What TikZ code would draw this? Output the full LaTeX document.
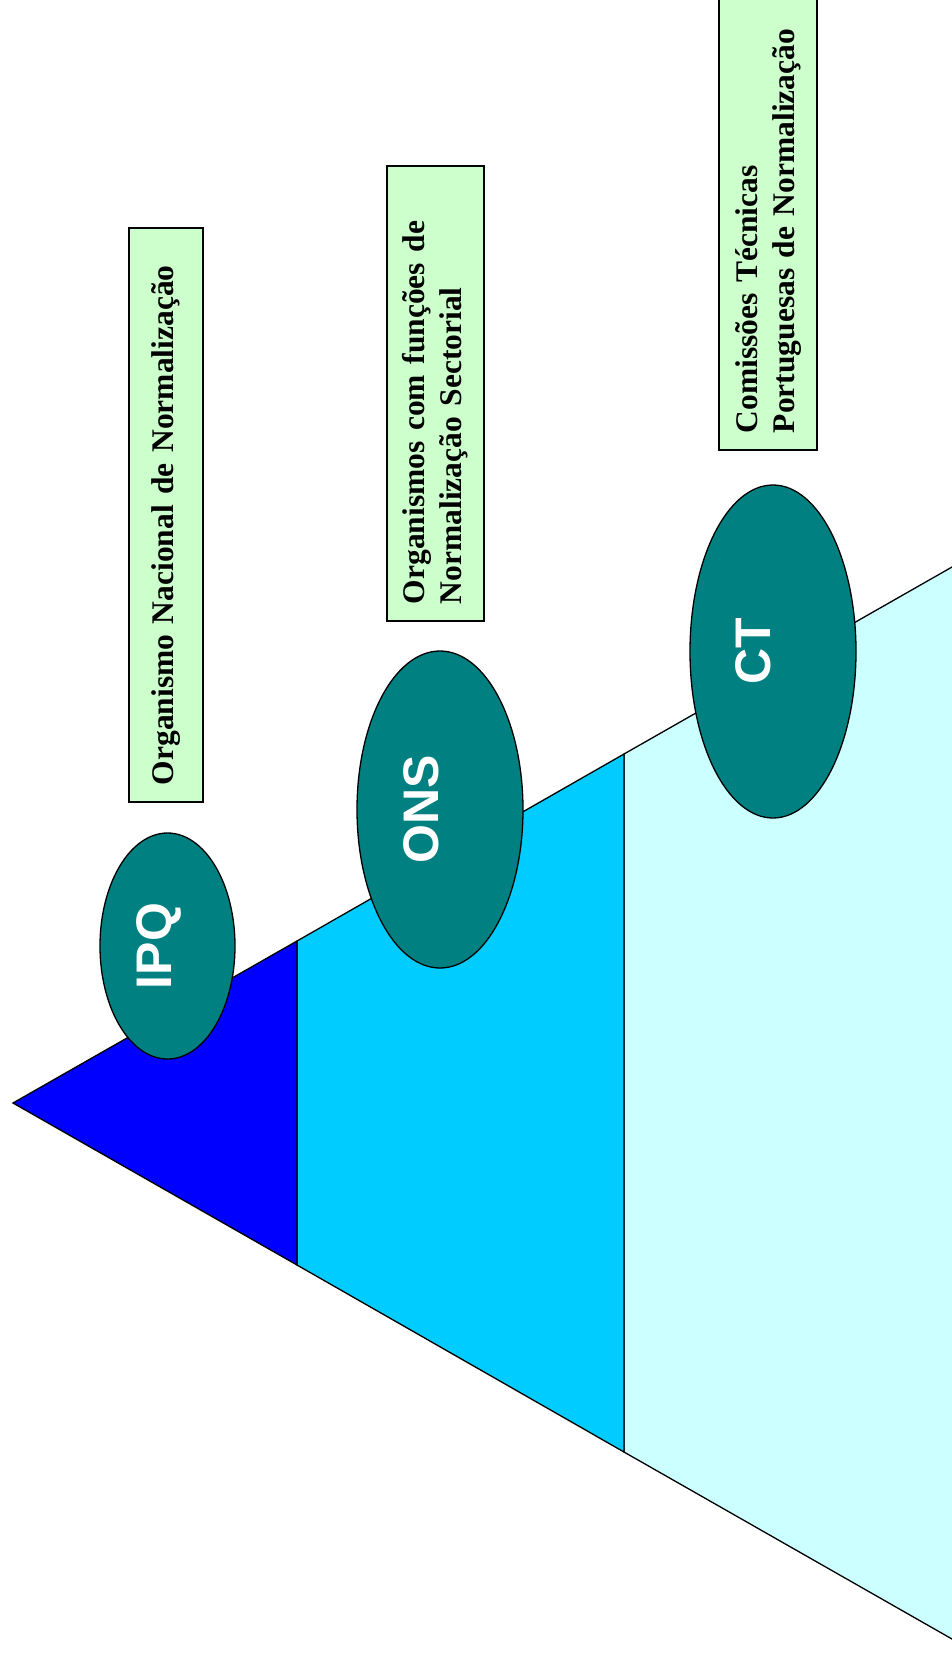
\documentclass[tikz,border=0pt]{standalone}
\usepackage{fontspec}
\setmainfont{Liberation Serif}
\newfontfamily\notefont[WordSpace=0.8]{Liberation Serif}
\newfontfamily\hubfont{Liberation Sans}
\usepackage{tikz}
\usetikzlibrary{shapes.geometric,calc}

\definecolor{tierone}{HTML}{0000FF}
\definecolor{tiertwo}{HTML}{00CCFF}
\definecolor{tierthree}{HTML}{CCFFFF}
\definecolor{hubteal}{HTML}{008080}
\definecolor{notegreen}{HTML}{CCFFCC}

\tikzset{
  tier/.style={draw=black,line width=1.3pt,line join=miter},
  hub/.style={ellipse,draw=black,line width=1.3pt,fill=hubteal,
    inner sep=0pt},
  hublabel/.style={text=white,inner sep=0pt,rotate=90,
    font=\hubfont\bfseries\fontsize{50}{56}\selectfont},
  note/.style={rectangle,draw=black,line width=1.3pt,fill=notegreen,rotate=90,
    align=left,inner xsep=17pt,inner ysep=0pt,
    font=\notefont\bfseries\fontsize{31.5}{37}\selectfont}
}

\begin{document}
\begin{tikzpicture}[x=1pt,y=-1pt]
\useasboundingbox (0,0) rectangle (952,1654);
% the corners of the pyramid
\coordinate (apex) at (13,1103);
\coordinate (t1) at (297,941);
\coordinate (b1) at (297,1265);
\coordinate (t2) at (624,754);
\coordinate (b2) at (624,1452);
\coordinate (t3) at (965,559.6);
\coordinate (b3) at (965,1646.4);
% the three tiers
\draw[tier,fill=tierthree] (t2) -- (t3) -- (b3) -- (b2) -- cycle;
\draw[tier,fill=tiertwo] (t1) -- (t2) -- (b2) -- (b1) -- cycle;
\draw[tier,fill=tierone] (apex) -- (t1) -- (b1) -- cycle;
% the notes
\node[note,minimum height=74pt,text width=540pt] (ipqnote) at (166,515)
  {Organismo Nacional de Normalização};
\node[note,minimum height=97pt,text width=421pt] (onsnote) at (435.5,393.5)
  {Organismos com funções de\\Normalização Sectorial};
\node[note,minimum height=98pt,text width=421pt] (ctnote) at (768,222.5)
  {Comissões Técnicas\\Portuguesas de Normalização};
% the bodies and their labels
\node[hub,minimum width=135pt,minimum height=226pt] (ipq) at (167.5,946) {};
\node[hub,minimum width=166pt,minimum height=317pt] (ons) at (440,809.5) {};
\node[hub,minimum width=166pt,minimum height=333pt] (ct) at (773,651.5) {};
\node[hublabel] (ipqlabel) at ([xshift=-9pt]ipq.center) {IPQ};
\node[hublabel] (onslabel) at ([xshift=-19pt]ons.center) {ONS};
\node[hublabel] (ctlabel) at ([xshift=-20pt]ct.center) {CT};

\end{tikzpicture}
\end{document}
